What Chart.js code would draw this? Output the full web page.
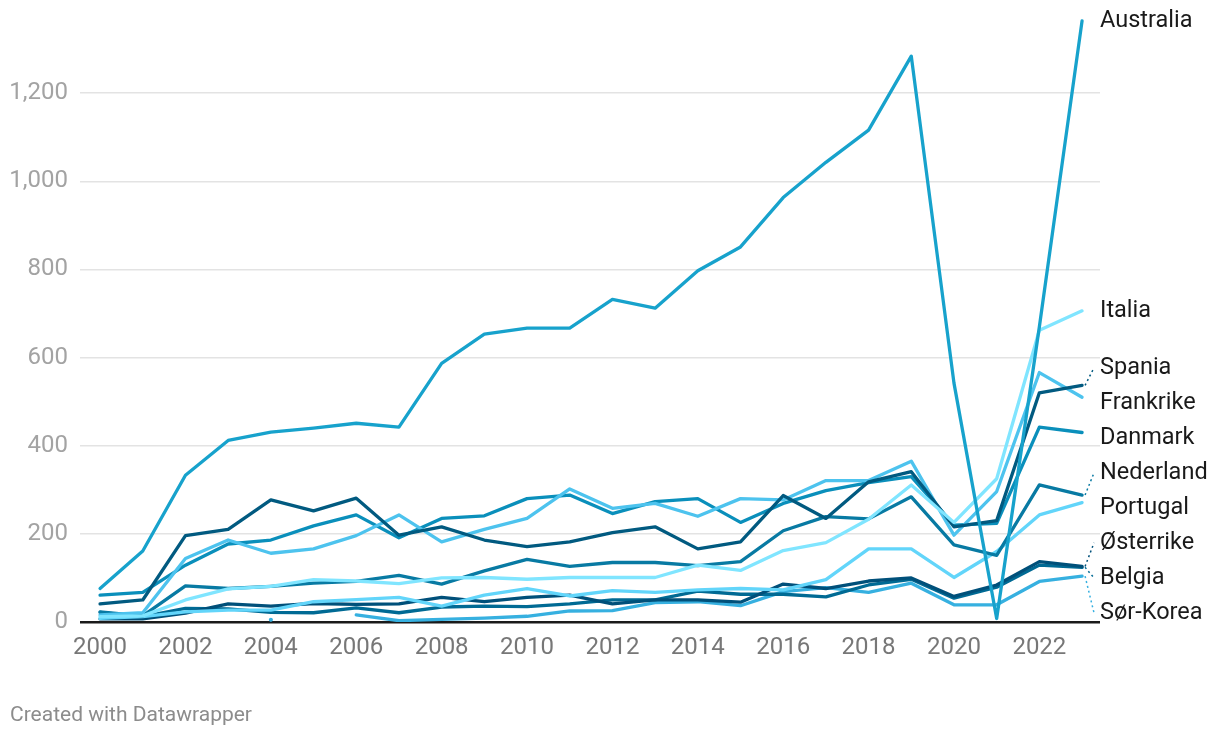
<!DOCTYPE html>
<html><head><meta charset="utf-8">
<script src="https://cdn.jsdelivr.net/npm/chart.js@4.4.1/dist/chart.umd.min.js"></script>
<style>
html,body{margin:0;padding:0;background:#fff;}
#wrap{position:relative;width:1220px;height:738px;overflow:hidden;}
#credit{position:absolute;left:10px;top:702px;font-family:Roboto,sans-serif;font-size:21px;line-height:24px;color:#8c8c8c;}
</style></head><body>
<div id="wrap"><canvas id="c" width="1220" height="738"></canvas><div id="credit">Created with Datawrapper</div></div>
<script>
const years = [2000,2001,2002,2003,2004,2005,2006,2007,2008,2009,2010,2011,2012,2013,2014,2015,2016,2017,2018,2019,2020,2021,2022,2023];
const xTickYears = [2000,2002,2004,2006,2008,2010,2012,2014,2016,2018,2020,2022];
const yTickValues = [0,200,400,600,800,1000,1200];

const countries = ["Australia","Italia","Spania","Frankrike","Danmark","Nederland","Portugal","Østerrike","Belgia","Sør-Korea"];

const australia = [76,161,333,412,431,440,451,442,587,653,667,667,732,712,797,851,963,1043,1116,1284,542,8,670,1364];
const italia    = [12,14,50,75,81,96,93,87,100,101,97,101,101,101,129,117,162,180,233,311,226,325,662,706];
const spania    = [41,50,196,210,277,252,281,197,216,186,171,182,203,216,166,182,287,235,318,341,216,230,520,537];
const frankrike = [16,21,144,186,156,166,196,243,182,210,235,302,258,269,240,280,277,321,321,365,197,296,566,510];
const danmark   = [61,67,129,177,186,218,243,191,235,241,280,288,246,273,280,226,269,298,316,330,220,224,442,430];
const nederland = [23,14,82,76,81,88,92,106,86,116,142,126,135,135,128,137,207,239,234,284,175,151,311,288];
const portugal  = [8,12,23,27,27,46,51,56,36,61,76,59,71,67,73,76,73,96,166,166,101,160,243,271];
const osterrike = [7,7,20,41,36,42,40,41,56,46,56,61,41,50,50,45,86,76,93,100,58,84,137,126];
const belgia    = [22,12,31,30,22,21,32,21,34,36,35,41,50,50,70,63,63,57,84,97,54,79,129,124];
const sorkorea  = [null,null,null,null,5,null,16,3,6,9,13,25,26,44,46,37,69,78,67,88,39,39,92,104];

const seriesValues = [australia,italia,spania,frankrike,danmark,nederland,portugal,osterrike,belgia,sorkorea];
const seriesColors = ["#17a2cc","#80e5ff","#015a80","#4dc3ee","#0a8fbb","#087aa3","#62d5fa","#00507a","#006a94","#36b0e0"];

Chart.defaults.font.family = "Roboto, 'Noto Sans', sans-serif";

const datasets = countries.map((name, i) => ({
  label: name,
  data: years.map((yr, j) => ({x: yr, y: seriesValues[i][j]})),
  borderColor: seriesColors[i],
  backgroundColor: seriesColors[i],
  borderWidth: 3.3,
  borderJoinStyle: 'round',
  borderCapStyle: 'round',
  tension: 0,
  spanGaps: false,
  pointRadius: (ctx) => {
    const d = seriesValues[i];
    const k = ctx.dataIndex;
    if (d[k] == null) return 0;
    const prev = k > 0 ? d[k-1] : null;
    const next = k < d.length - 1 ? d[k+1] : null;
    return (prev == null && next == null) ? 2 : 0;
  },
  pointHoverRadius: 0,
  pointBorderWidth: 0
}));

const labelPlugin = {
  id: 'endLabels',
  afterDatasetsDraw(chart) {
    const ctx = chart.ctx;
    const xs = chart.scales.x, ys = chart.scales.y;
    const gap = 35;
    const items = countries.map((name, i) => {
      const d = seriesValues[i];
      const last = d.length - 1;
      return {name, color: seriesColors[i], px: xs.getPixelForValue(years[last]), target: ys.getPixelForValue(d[last])};
    }).sort((a, b) => a.target - b.target);
    let clusters = items.map(it => ({items: [it]}));
    const place = (c) => {
      const mean = c.items.reduce((s, it) => s + it.target, 0) / c.items.length;
      c.top = mean - (c.items.length - 1) * gap / 2;
      c.bottom = c.top + (c.items.length - 1) * gap;
    };
    clusters.forEach(place);
    let changed = true;
    while (changed) {
      changed = false;
      for (let k = 0; k < clusters.length - 1; k++) {
        if (clusters[k].bottom + gap > clusters[k+1].top) {
          const merged = {items: clusters[k].items.concat(clusters[k+1].items)};
          place(merged);
          clusters.splice(k, 2, merged);
          changed = true;
          break;
        }
      }
    }
    ctx.save();
    ctx.font = "23.5px Roboto, 'Noto Sans', sans-serif";
    ctx.textBaseline = 'middle';
    ctx.textAlign = 'left';
    const lx = chart.chartArea.right;
    clusters.forEach(c => {
      c.items.forEach((it, n) => {
        const ly = c.top + n * gap;
        if (Math.abs(ly - it.target) > 6) {
          ctx.beginPath();
          ctx.setLineDash([2, 3]);
          ctx.lineWidth = 1.5;
          ctx.strokeStyle = it.color;
          ctx.moveTo(it.px + 3, it.target);
          ctx.lineTo(lx - 6, ly);
          ctx.stroke();
          ctx.setLineDash([]);
        }
        ctx.fillStyle = '#1a1a1a';
        ctx.fillText(it.name, lx, ly);
      });
    });
    ctx.restore();
  }
};

new Chart(document.getElementById('c'), {
  type: 'line',
  data: {datasets},
  plugins: [labelPlugin],
  options: {
    responsive: false,
    animation: false,
    devicePixelRatio: 1,
    layout: {padding: {top: 5, right: 120, bottom: 0, left: 0}},
    plugins: {legend: {display: false}, tooltip: {enabled: false}},
    events: [],
    scales: {
      x: {
        type: 'linear',
        min: 1999.53,
        max: 2023.42,
        afterBuildTicks: (s) => { s.ticks = xTickYears.map(v => ({value: v})); },
        afterFit: (s) => { s.height = 116; s.paddingLeft = 0; s.paddingRight = 0; },
        grid: {display: false, drawTicks: false},
        border: {display: false},
        ticks: {
          autoSkip: false, maxRotation: 0, padding: 12,
          color: '#777777', font: {size: 24},
          callback: (v) => String(v)
        }
      },
      y: {
        type: 'linear',
        min: 0,
        max: 1400,
        afterBuildTicks: (s) => { s.ticks = yTickValues.map(v => ({value: v})); },
        afterFit: (s) => { s.width = 80; s.paddingTop = 0; s.paddingBottom = 0; },
        border: {display: false},
        grid: {
          drawTicks: false,
          color: (c) => c.tick && c.tick.value === 0 ? '#1a1a1a' : '#e3e3e3',
          lineWidth: (c) => c.tick && c.tick.value === 0 ? 2.5 : 1.5
        },
        ticks: {
          padding: 12,
          color: '#a3a3a3', font: {size: 24},
          callback: (v) => v.toLocaleString('en-US')
        }
      }
    }
  }
});
</script>
</body></html>
